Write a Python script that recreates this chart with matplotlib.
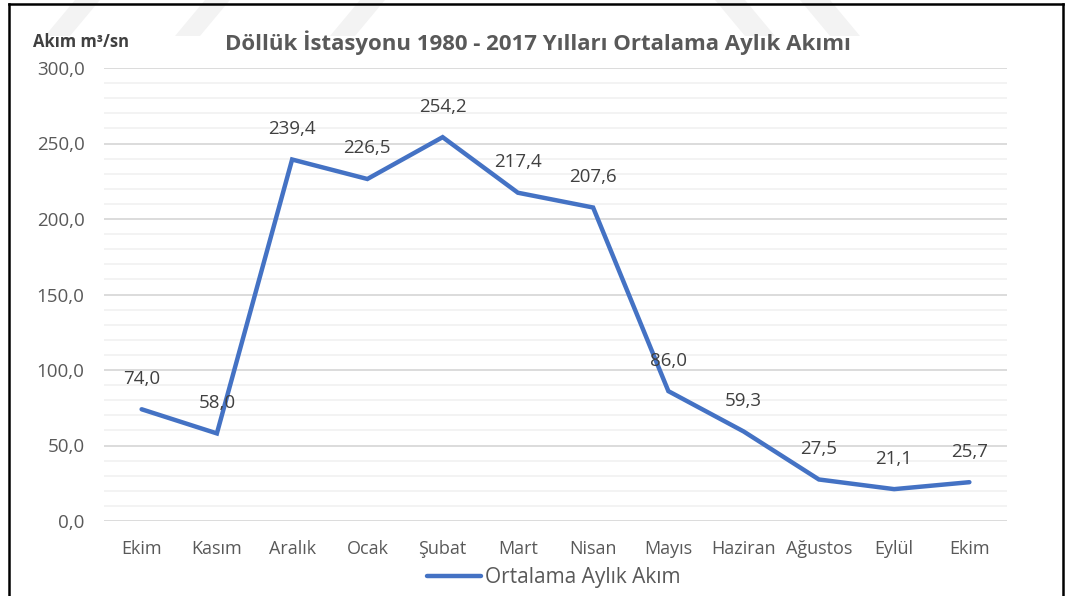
import matplotlib.pyplot as plt
from matplotlib.patches import Polygon
from matplotlib.lines import Line2D

plt.rcParams['font.family'] = ['Open Sans', 'DejaVu Sans']

# Data
months = ['Ekim', 'Kasım', 'Aralık', 'Ocak', 'Şubat', 'Mart', 'Nisan',
          'Mayıs', 'Haziran', 'Ağustos', 'Eylül', 'Ekim']
flow = [74.0, 58.0, 239.4, 226.5, 254.2, 217.4, 207.6, 86.0, 59.3, 27.5, 21.1, 25.7]
yticks = [0, 50, 100, 150, 200, 250, 300]

text_col = '#595959'
line_col = '#4472C4'

fig = plt.figure(figsize=(10.68, 5.96), dpi=100)

# faint watermark bands at the top
W, H = 1068, 596
bands = [
    [(45, 36), (70, 36), (100, 0), (75, 0)],
    [(175, 36), (200, 36), (230, 0), (205, 0)],
    [(330, 36), (355, 36), (385, 0), (360, 0)],
    [(715, 0), (745, 0), (775, 36), (745, 36)],
    [(800, 0), (830, 0), (860, 36), (830, 36)],
]
for b in bands:
    pts = [(x / W, 1 - y / H) for x, y in b]
    fig.patches.append(Polygon(pts, closed=True, transform=fig.transFigure,
                               facecolor='#F3F3F3', edgecolor='none', zorder=0))

# outer frame
for xs, ys in [([9, 9], [4, 600]), ([9, 1063], [4, 4]), ([1063, 1063], [4, 600])]:
    fig.add_artist(Line2D([x / W for x in xs], [1 - y / H for y in ys],
                          color='black', lw=1.8, transform=fig.transFigure))

ax = fig.add_axes([104 / W, 1 - 521 / H, (1007 - 104) / W, (521 - 68) / H])
ax.set_facecolor('none')

x = list(range(len(months)))
ax.plot(x, flow, color=line_col, lw=3.2, solid_joinstyle='miter',
        solid_capstyle='round', label='Ortalama Aylık Akım', zorder=3)

for xi, v in zip(x, flow):
    ax.annotate(f'{v:.1f}'.replace('.', ','), (xi, v), xytext=(0, 22),
                textcoords='offset points', ha='center', va='center',
                fontsize=13.5, color='#404040', zorder=4)

ax.set_xlim(-0.5, len(months) - 0.5)
ax.set_ylim(0, 300)
ax.set_yticks(yticks)
ax.set_yticklabels([f'{t:.1f}'.replace('.', ',') for t in yticks])
ax.set_yticks(range(0, 301, 10), minor=True)
ax.set_xticks(x)
ax.set_xticklabels(months)
ax.grid(axis='y', which='minor', color='#F2F2F2', lw=1.3)
ax.grid(axis='y', which='major', color='#D9D9D9', lw=1.3)
ax.set_axisbelow(True)
for s in ax.spines.values():
    s.set_visible(False)
ax.tick_params(axis='both', which='both', length=0, colors=text_col)
ax.tick_params(axis='y', pad=14, labelsize=13.5)
ax.tick_params(axis='x', pad=13.5, labelsize=13)

fig.text(538 / W, 1 - 43 / H, 'Döllük İstasyonu 1980 - 2017 Yılları Ortalama Aylık Akımı',
         ha='center', va='center', fontsize=16, fontweight='bold', color=text_col)
fig.text(33 / W, 1 - 42 / H, 'Akım m³/sn', ha='left', va='center',
         fontsize=12, fontweight='bold', color='#404040')

fig.legend(loc='center', bbox_to_anchor=(554 / W, 1 - 578 / H), frameon=False,
           handlelength=2.6, handletextpad=0.2, fontsize=15,
           labelcolor=text_col)

fig.savefig('out.png', dpi=100)
